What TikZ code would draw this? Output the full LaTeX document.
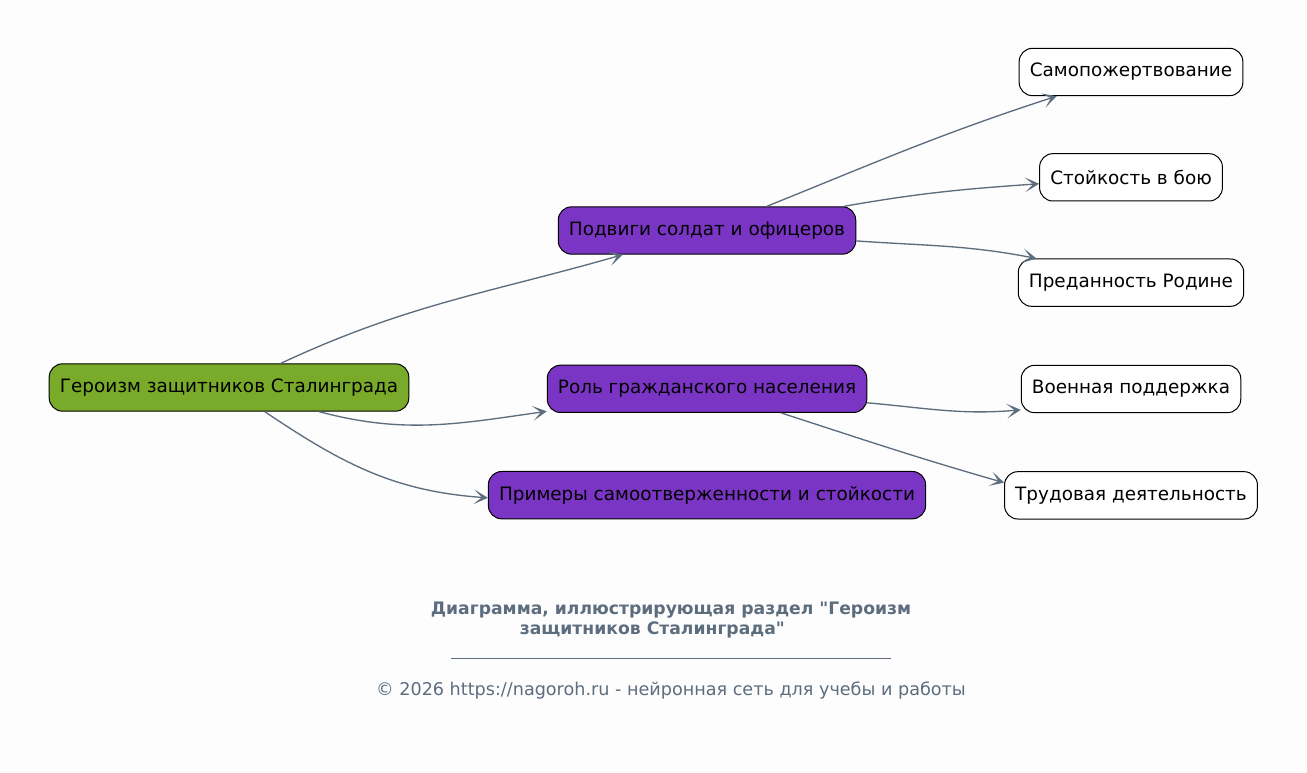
\documentclass[tikz,border=0pt]{standalone}
\usepackage{fontspec}
\setmainfont{DejaVu Sans}
\usetikzlibrary{arrows.meta, positioning}

\definecolor{rootgreen}{RGB}{121,170,41}
\definecolor{topicpurple}{RGB}{122,53,196}
\definecolor{edgegray}{RGB}{93,109,126}
\definecolor{paper}{RGB}{253,253,253}

\begin{document}
\begin{tikzpicture}[x=0.75pt, y=0.75pt]
    \tikzset{
        root/.style = {rectangle, draw=black, line width=0.75pt, fill=rootgreen, rounded corners=10pt, minimum height=35.5pt, inner xsep=8pt, font=\fontsize{13.8}{16}\selectfont},
        topic/.style = {rectangle, draw=black, line width=0.75pt, fill=topicpurple, rounded corners=10pt, minimum height=35.5pt, inner xsep=8pt, font=\fontsize{13.8}{16}\selectfont},
        leaf/.style = {rectangle, draw=black, line width=0.75pt, fill=white, rounded corners=10pt, minimum height=35.5pt, inner xsep=8pt, font=\fontsize{13.8}{16}\selectfont},
        line/.style = {draw=edgegray, line width=1pt, -{Stealth[length=10.5pt, width=11pt, inset=6pt]}}
    }

    \fill[paper] (0,0) rectangle (1307,-773);
    \useasboundingbox (0,0) rectangle (1307,-773);

    \node[root](geroizm) at (229,-387.5){Героизм защитников Сталинграда};

    \node[topic](podvigi) at (707,-230.5){Подвиги солдат и офицеров};
    \node[topic](rol)[below = 82.5pt of podvigi]{Роль гражданского населения};
    \node[topic](primery)[below = 43.5pt of rol]{Примеры самоотверженности и стойкости};

    \node[leaf](samop) at (1131,-72){Самопожертвование};
    \node[leaf](stoik)[below = 42.75pt of samop]{Стойкость в бою};
    \node[leaf](predan)[below = 42.75pt of stoik]{Преданность Родине};
    \node[leaf](voen)[below = 43.5pt of predan]{Военная поддержка};
    \node[leaf](trud)[below = 43.5pt of voen]{Трудовая деятельность};

    \path [line] (geroizm) to[out=25, in=196] (podvigi);
    \path [line] (geroizm) to[out=-15, in=188] (rol);
    \path [line] (geroizm) to[out=-34, in=176] ([yshift=-2pt]primery.west);

    \path [line] (podvigi) to[out=22, in=198] (samop);
    \path [line] (podvigi) to[out=10, in=184] (stoik);
    \path [line] (podvigi) to[out=-4, in=169] ([xshift=14pt]predan.north west);

    \path [line] (rol) to[out=-5, in=185] ([yshift=2.5pt]voen.south west);
    \path [line] (rol) to[out=-18, in=164] ([yshift=9.5pt]trud.west);

    \node[text=edgegray, font=\bfseries\fontsize{12.9}{14.5}\selectfont, align=center](title) at (671,-620){Диаграмма, иллюстрирующая раздел \textquotedbl Героизм\\защитников Сталинграда\textquotedbl\hspace*{28pt}};
    \draw[edgegray, line width=0.5pt] (451,-658) -- (891,-658);
    \node[text=edgegray, font=\fontsize{13.2}{15}\selectfont](copyright) at (671,-690){© 2026 https://nagoroh.ru - нейронная сеть для учебы и работы};

\end{tikzpicture}
\end{document}
